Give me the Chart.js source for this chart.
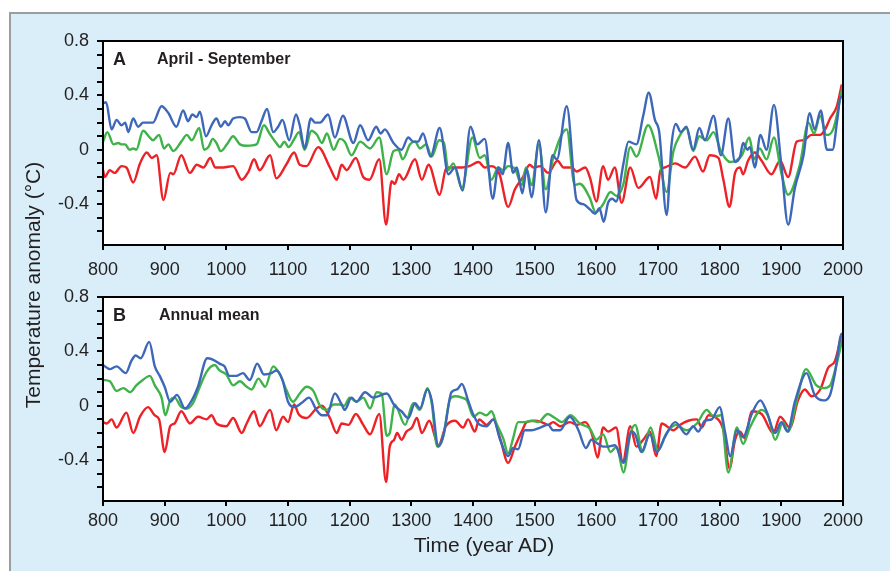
<!DOCTYPE html>
<html>
<head>
<meta charset="utf-8">
<script src="https://cdn.jsdelivr.net/npm/chart.js@4.4.1/dist/chart.umd.min.js"></script>
<style>
  body { margin: 0; width: 890px; height: 571px; background: #fff; overflow: hidden; position: relative; font-family: "Liberation Sans", Arial, sans-serif; color: #231f20; }
  #frame { position: absolute; left: 9px; top: 12px; width: 890px; height: 571px; background: #d9eef9; border-left: 2px solid #9d9d9d; border-top: 2px solid #9d9d9d; }
  canvas { position: absolute; left: 0; }
  #chartA { top: 0; }
  #chartB { top: 256px; }
  .axTitle { position: absolute; font-size: 21px; line-height: 24px; text-align: center; white-space: nowrap; }
  #yTitle { width: 320px; left: -127px; top: 273px; transform: rotate(-90deg); }
  #xTitle { width: 240px; left: 364px; top: 533px; }
</style>
</head>
<body>
<div id="frame"></div>
<canvas id="chartA" width="890" height="285"></canvas>
<canvas id="chartB" width="890" height="315"></canvas>
<div class="axTitle" id="yTitle">Temperature anomaly (°C)</div>
<div class="axTitle" id="xTitle">Time (year AD)</div>
<script>
// [year, anomaly] pairs
var aprBlue = [[800,0.34],[805,0.35],[814,0.15],[822,0.22],[830,0.18],[836,0.2],[841,0.13],[849,0.23],[857,0.17],[865,0.2],[881,0.2],[895,0.32],[906,0.27],[919,0.17],[930,0.29],[938,0.21],[945,0.26],[952,0.24],[957,0.28],[967,0.1],[976,0.18],[984,0.23],[991,0.17],[998,0.21],[1003,0.18],[1011,0.23],[1022,0.24],[1030,0.23],[1041,0.13],[1049,0.13],[1057,0.21],[1066,0.3],[1076,0.13],[1084,0.17],[1091,0.22],[1102,0.07],[1113,0.26],[1119,0.18],[1127,0.01],[1137,0.23],[1144,0.2],[1152,0.2],[1165,0.26],[1176,0.09],[1189,0.25],[1206,0.05],[1217,0.18],[1230,0.07],[1243,0.17],[1250,0.12],[1257,0.15],[1271,0.05],[1284,0],[1295,0.09],[1303,0.06],[1311,0.06],[1319,0.12],[1331,-0.05],[1346,0.16],[1360,-0.18],[1371,-0.13],[1383,-0.3],[1396,0.17],[1407,0.04],[1419,0.08],[1432,-0.36],[1441,-0.13],[1448,-0.18],[1457,0.05],[1465,-0.17],[1471,-0.13],[1480,-0.32],[1487,-0.14],[1495,-0.35],[1507,0.07],[1518,-0.46],[1529,-0.04],[1536,-0.07],[1552,0.32],[1568,-0.37],[1579,-0.4],[1590,-0.44],[1598,-0.47],[1605,-0.43],[1612,-0.53],[1619,-0.39],[1626,-0.36],[1632,-0.38],[1644,-0.1],[1652,0.06],[1665,0.04],[1676,0.25],[1685,0.42],[1695,0.22],[1702,0.13],[1714,-0.48],[1722,0.04],[1729,0.19],[1737,0.13],[1746,0.17],[1757,0],[1767,0.16],[1776,0.07],[1790,0.25],[1802,-0.04],[1814,0.23],[1825,-0.09],[1833,-0.05],[1838,0.05],[1845,0],[1849,0.02],[1857,-0.13],[1866,0.11],[1876,0],[1888,0.33],[1900,-0.11],[1911,-0.55],[1922,-0.28],[1936,-0.04],[1946,0.27],[1954,0.15],[1964,0.29],[1974,0],[1983,0],[1991,0.23],[1996,0.39],[2000,0.38]];
var aprGreen = [[800,0.06],[807,0.13],[817,0.04],[825,0.05],[830,0.04],[836,0.04],[843,0],[849,0.01],[854,0],[865,0.14],[876,0.09],[881,0.07],[891,0.11],[899,0.01],[906,0.04],[914,-0.01],[927,0.06],[936,0.11],[944,0.07],[956,0.16],[964,0],[971,0.02],[978,0.08],[984,0.05],[991,-0.01],[1001,0.04],[1011,0.1],[1022,0.04],[1033,0.03],[1049,0.04],[1061,0.18],[1070,0.12],[1081,0.05],[1087,0.02],[1094,0.06],[1101,0.02],[1109,0.07],[1118,0.13],[1127,0],[1138,0.14],[1147,0.11],[1155,0.05],[1163,0.12],[1174,0],[1184,0.08],[1192,0.06],[1203,-0.04],[1217,0.06],[1233,0.01],[1248,0.09],[1260,-0.18],[1271,-0.01],[1279,0],[1286,-0.07],[1298,0.04],[1306,0.06],[1314,0.01],[1324,0.04],[1333,-0.05],[1345,0.07],[1353,0.05],[1360,-0.15],[1368,-0.1],[1382,-0.28],[1399,0.09],[1411,-0.06],[1419,-0.04],[1430,-0.22],[1441,-0.13],[1449,-0.15],[1457,-0.12],[1468,-0.14],[1479,-0.26],[1486,-0.13],[1495,-0.26],[1507,0.04],[1518,-0.29],[1530,-0.06],[1552,0.15],[1565,-0.26],[1573,-0.25],[1589,-0.35],[1599,-0.46],[1611,-0.4],[1623,-0.31],[1633,-0.34],[1644,-0.25],[1655,0.02],[1665,-0.05],[1684,0.18],[1701,-0.05],[1714,-0.31],[1725,-0.01],[1736,0.11],[1746,0.16],[1757,-0.01],[1767,0.1],[1779,0.07],[1790,0.13],[1802,-0.01],[1817,-0.09],[1836,-0.04],[1848,0.09],[1856,-0.07],[1865,0.01],[1876,-0.07],[1888,0.09],[1900,-0.17],[1911,-0.33],[1930,-0.11],[1944,0.2],[1953,0.12],[1963,0.25],[1973,0.11],[1984,0.15],[2000,0.48]];
var aprRed = [[800,-0.15],[803,-0.2],[811,-0.15],[819,-0.17],[830,-0.12],[838,-0.13],[849,-0.24],[860,-0.1],[871,-0.02],[879,-0.06],[887,-0.04],[898,-0.37],[909,-0.17],[914,-0.18],[927,-0.04],[941,-0.17],[952,-0.11],[963,-0.13],[974,-0.06],[982,-0.13],[995,-0.13],[1011,-0.12],[1025,-0.22],[1036,-0.16],[1045,-0.07],[1054,-0.15],[1071,-0.04],[1081,-0.21],[1097,-0.11],[1110,-0.02],[1119,-0.11],[1130,-0.12],[1149,0.02],[1168,-0.13],[1179,-0.22],[1187,-0.11],[1195,-0.15],[1210,-0.06],[1222,-0.2],[1232,-0.22],[1248,-0.07],[1259,-0.55],[1268,-0.23],[1273,-0.25],[1280,-0.18],[1287,-0.22],[1306,-0.07],[1317,-0.22],[1328,-0.11],[1346,-0.33],[1357,-0.13],[1365,-0.13],[1382,-0.13],[1394,-0.12],[1409,-0.09],[1419,-0.13],[1430,-0.12],[1443,-0.18],[1457,-0.42],[1468,-0.29],[1481,-0.2],[1492,-0.11],[1498,-0.13],[1509,-0.12],[1522,-0.17],[1537,-0.08],[1547,-0.13],[1560,-0.13],[1568,-0.16],[1582,-0.13],[1590,-0.21],[1600,-0.38],[1611,-0.12],[1619,-0.22],[1630,-0.13],[1641,-0.39],[1655,-0.13],[1668,-0.28],[1687,-0.2],[1697,-0.36],[1704,-0.15],[1711,-0.13],[1728,-0.1],[1744,-0.13],[1760,-0.05],[1773,-0.16],[1784,-0.04],[1798,-0.06],[1806,-0.22],[1816,-0.42],[1825,-0.17],[1833,-0.13],[1838,-0.18],[1846,-0.08],[1857,-0.02],[1868,-0.08],[1884,-0.18],[1898,-0.08],[1911,-0.2],[1925,0.06],[1936,0.07],[1949,0.11],[1963,0.11],[1971,0.15],[1979,0.23],[1990,0.32],[1998,0.48]];

var annBlue = [[800,0.3],[811,0.27],[822,0.29],[837,0.24],[846,0.33],[853,0.37],[861,0.35],[875,0.47],[884,0.29],[892,0.22],[900,0.14],[909,0.03],[920,0.08],[933,-0.02],[944,0.04],[954,0.14],[969,0.35],[978,0.34],[989,0.31],[997,0.29],[1005,0.22],[1016,0.22],[1027,0.24],[1038,0.19],[1050,0.31],[1061,0.23],[1073,0.24],[1081,0.26],[1091,0.19],[1100,0.03],[1110,-0.01],[1122,0.02],[1134,0.06],[1146,-0.03],[1155,-0.07],[1163,-0.07],[1176,0.09],[1187,0.01],[1192,-0.03],[1203,0.06],[1211,0.03],[1225,0.1],[1238,0.06],[1260,0.09],[1273,0],[1284,-0.04],[1295,-0.09],[1306,0.02],[1314,-0.02],[1326,0.12],[1333,0.04],[1344,-0.3],[1353,-0.2],[1365,0.1],[1374,0.12],[1382,0.16],[1392,0.04],[1401,-0.07],[1411,-0.14],[1422,-0.15],[1433,-0.1],[1444,-0.25],[1457,-0.37],[1465,-0.31],[1473,-0.32],[1484,-0.18],[1495,-0.18],[1509,-0.16],[1522,-0.14],[1530,-0.18],[1541,-0.18],[1557,-0.08],[1571,-0.18],[1583,-0.31],[1592,-0.25],[1603,-0.28],[1612,-0.3],[1619,-0.3],[1630,-0.29],[1644,-0.42],[1657,-0.19],[1663,-0.21],[1673,-0.34],[1687,-0.21],[1698,-0.34],[1711,-0.23],[1728,-0.12],[1746,-0.21],[1757,-0.15],[1765,-0.19],[1776,-0.11],[1787,-0.1],[1800,-0.01],[1809,-0.2],[1817,-0.37],[1828,-0.18],[1838,-0.23],[1852,-0.06],[1866,0.04],[1876,-0.04],[1890,-0.2],[1900,-0.12],[1910,-0.19],[1922,0.03],[1941,0.24],[1954,0.08],[1968,0.04],[1979,0.08],[1987,0.24],[1998,0.53],[2000,0.52]];
var annGreen = [[800,0.19],[811,0.18],[822,0.11],[833,0.13],[844,0.1],[854,0.15],[862,0.18],[876,0.22],[884,0.15],[895,0.06],[901,-0.07],[909,0.04],[916,0.06],[927,-0.01],[935,-0.02],[946,0.02],[957,0.14],[968,0.25],[981,0.3],[989,0.26],[1000,0.23],[1011,0.15],[1022,0.18],[1033,0.14],[1041,0.12],[1052,0.2],[1063,0.14],[1076,0.29],[1087,0.23],[1098,0.11],[1108,0.03],[1119,0.09],[1130,0.14],[1141,0.11],[1152,0],[1163,-0.03],[1174,0.01],[1184,0.01],[1191,0],[1200,0.06],[1211,0.03],[1222,0.06],[1233,-0.02],[1244,0.1],[1252,0.09],[1260,-0.22],[1265,-0.2],[1273,0.01],[1290,-0.14],[1303,0.02],[1314,-0.03],[1326,0.13],[1333,0.02],[1342,-0.3],[1351,-0.24],[1363,0.05],[1371,0.07],[1382,0.06],[1390,0.04],[1401,-0.08],[1411,-0.05],[1422,-0.07],[1430,-0.04],[1438,-0.13],[1449,-0.24],[1457,-0.35],[1465,-0.24],[1473,-0.12],[1484,-0.12],[1495,-0.11],[1506,-0.12],[1521,-0.06],[1533,-0.09],[1544,-0.12],[1558,-0.07],[1573,-0.13],[1590,-0.17],[1600,-0.25],[1611,-0.21],[1623,-0.34],[1633,-0.3],[1644,-0.49],[1655,-0.21],[1663,-0.14],[1675,-0.34],[1688,-0.16],[1700,-0.33],[1714,-0.2],[1730,-0.14],[1746,-0.18],[1763,-0.13],[1779,-0.03],[1790,-0.08],[1802,-0.07],[1814,-0.49],[1828,-0.16],[1838,-0.28],[1849,-0.16],[1868,-0.03],[1879,-0.08],[1890,-0.25],[1903,-0.12],[1911,-0.19],[1925,0.04],[1940,0.27],[1957,0.15],[1968,0.13],[1979,0.15],[1987,0.26],[2000,0.51]];
var annRed = [[800,-0.12],[806,-0.13],[814,-0.1],[822,-0.16],[838,-0.05],[849,-0.2],[860,-0.08],[873,-0.01],[884,-0.07],[891,-0.1],[900,-0.34],[909,-0.15],[916,-0.13],[927,-0.04],[941,-0.13],[954,-0.08],[968,-0.1],[976,-0.07],[984,-0.13],[1000,-0.15],[1011,-0.09],[1025,-0.2],[1033,-0.13],[1045,-0.04],[1054,-0.15],[1071,-0.03],[1081,-0.18],[1092,-0.08],[1100,-0.12],[1110,0.01],[1117,-0.06],[1130,-0.09],[1146,-0.02],[1155,0],[1168,-0.09],[1179,-0.2],[1187,-0.13],[1198,-0.14],[1210,-0.06],[1222,-0.14],[1233,-0.21],[1248,-0.06],[1259,-0.56],[1265,-0.3],[1272,-0.25],[1277,-0.2],[1284,-0.25],[1292,-0.19],[1301,-0.16],[1309,-0.09],[1317,-0.2],[1329,-0.11],[1344,-0.29],[1356,-0.15],[1371,-0.11],[1384,-0.16],[1392,-0.1],[1403,-0.19],[1410,-0.1],[1422,-0.14],[1433,-0.1],[1444,-0.24],[1457,-0.42],[1468,-0.3],[1479,-0.19],[1487,-0.12],[1499,-0.11],[1511,-0.12],[1522,-0.14],[1530,-0.12],[1541,-0.15],[1557,-0.12],[1569,-0.14],[1582,-0.12],[1593,-0.21],[1602,-0.38],[1611,-0.16],[1619,-0.19],[1632,-0.16],[1643,-0.41],[1655,-0.15],[1665,-0.3],[1676,-0.25],[1687,-0.19],[1697,-0.37],[1706,-0.13],[1725,-0.18],[1736,-0.14],[1749,-0.11],[1763,-0.1],[1771,-0.16],[1782,-0.07],[1795,-0.09],[1806,-0.18],[1816,-0.46],[1825,-0.25],[1833,-0.19],[1841,-0.24],[1852,-0.04],[1868,-0.06],[1887,-0.2],[1898,-0.08],[1914,-0.16],[1927,0.04],[1938,0.12],[1949,0.07],[1963,0.12],[1976,0.28],[1987,0.33],[1998,0.53]];

var yearMin = 800, yearMax = 2000, yearStep = 100;
var tempMin = -0.7, tempMax = 0.8, tempStep = 0.1;
var labelledTemps = [0.8, 0.4, 0, -0.4];

var FONT = '"Liberation Sans", Arial, sans-serif';
var BLUE = '#3d67b9', GREEN = '#3fb34a', RED = '#ec2227';

function toPoints(arr) {
  return arr.map(function (p) { return { x: p[0], y: p[1] }; });
}

// white plot box, black frame and the panel letter + caption
var panelPlugin = {
  id: 'panel',
  beforeDraw: function (chart) {
    var a = chart.chartArea, ctx = chart.ctx;
    ctx.save();
    ctx.fillStyle = '#fff';
    ctx.fillRect(a.left, a.top, a.right - a.left, a.bottom - a.top);
    ctx.restore();
  },
  afterDraw: function (chart, args, opts) {
    var a = chart.chartArea, ctx = chart.ctx;
    ctx.save();
    ctx.strokeStyle = '#000';
    ctx.lineWidth = 2;
    ctx.strokeRect(a.left, a.top, a.right - a.left, a.bottom - a.top);
    ctx.fillStyle = '#231f20';
    ctx.textBaseline = 'middle';
    ctx.font = 'bold 18px ' + FONT;
    ctx.fillText(opts.letter, a.left + 10, a.top + 19);
    ctx.font = 'bold 16px ' + FONT;
    ctx.fillText(opts.text, a.left + 54 + (opts.dx || 0), a.top + 19);
    ctx.restore();
  }
};

function makeChart(id, blue, green, red, letter, text, canvasH, xPad, dx) {
  new Chart(document.getElementById(id), {
    type: 'line',
    data: {
      datasets: [
        { data: toPoints(blue), borderColor: BLUE },
        { data: toPoints(green), borderColor: GREEN },
        { data: toPoints(red), borderColor: RED }
      ]
    },
    options: {
      responsive: false,
      animation: false,
      devicePixelRatio: 1,
      datasets: {
        line: { borderWidth: 2.4, pointRadius: 0, cubicInterpolationMode: 'monotone', fill: false }
      },
      layout: { padding: { top: 41, right: 47, left: 0, bottom: 0 } },
      plugins: {
        legend: { display: false },
        tooltip: { enabled: false },
        panel: { letter: letter, text: text, dx: dx }
      },
      scales: {
        x: {
          type: 'linear',
          min: yearMin,
          max: yearMax,
          afterFit: function (s) { s.height = canvasH - 41 - 204; },
          border: { display: true, color: '#000', width: 2 },
          grid: { drawOnChartArea: false, drawTicks: true, tickLength: 5, color: '#000', lineWidth: 2 },
          ticks: {
            stepSize: yearStep,
            autoSkip: false,
            maxRotation: 0,
            padding: xPad,
            color: '#231f20',
            font: { family: FONT, size: 18 },
            callback: function (v) { return String(v); }
          }
        },
        y: {
          min: tempMin,
          max: tempMax,
          afterFit: function (s) { s.width = 103; },
          border: { display: true, color: '#000', width: 2 },
          grid: {
            drawOnChartArea: false,
            drawTicks: true,
            tickLength: 6,
            lineWidth: 2,
            color: function (c) { return c.tick && c.tick.value < tempMin + 0.05 ? 'rgba(0,0,0,0)' : '#000'; }
          },
          ticks: {
            stepSize: tempStep,
            autoSkip: false,
            padding: 8,
            color: '#231f20',
            font: { family: FONT, size: 18 },
            callback: function (v) {
              var r = Math.round(v * 10) / 10;
              if (labelledTemps.indexOf(r) < 0) return '';
              return r === 0 ? '0' : r.toFixed(1);
            }
          }
        }
      }
    },
    plugins: [panelPlugin]
  });
}

makeChart('chartA', aprBlue, aprGreen, aprRed, 'A', 'April - September', 285, 9, 0);
makeChart('chartB', annBlue, annGreen, annRed, 'B', 'Annual mean', 315, 4, 2);
</script>
</body>
</html>
